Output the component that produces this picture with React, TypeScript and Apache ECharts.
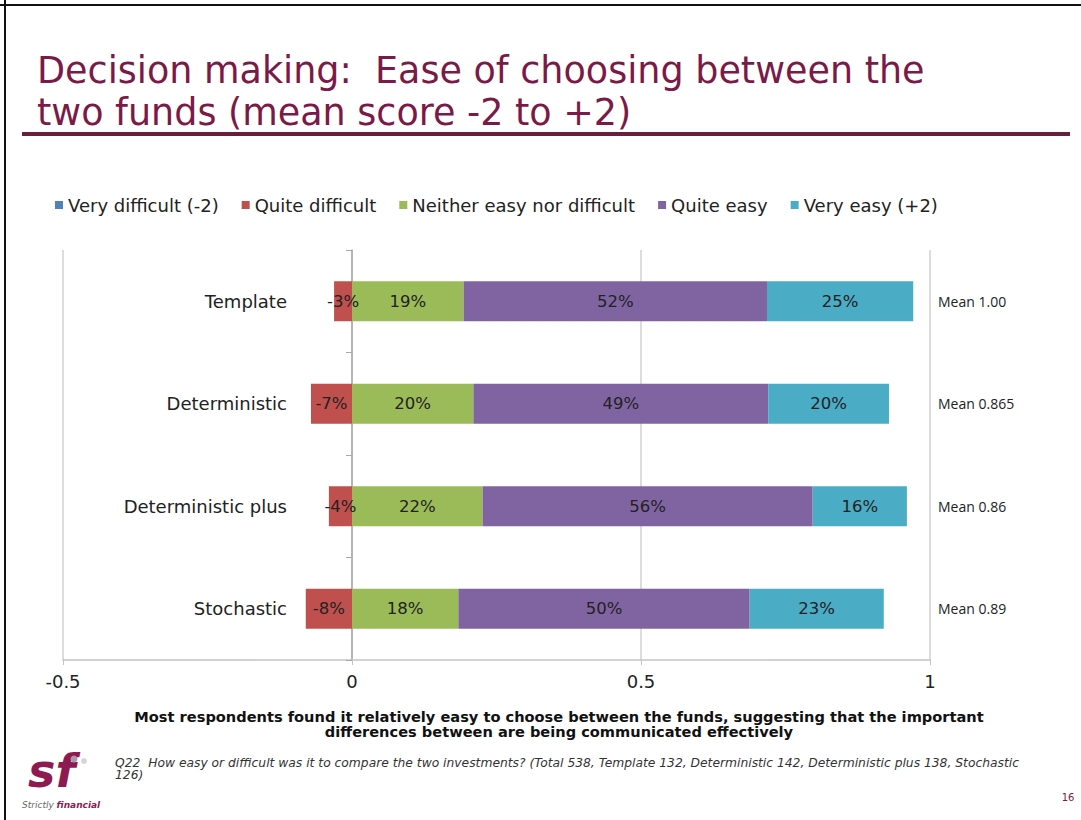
import React, { useEffect, useRef } from "react";
import * as echarts from "echarts";

// ---- Data ----
const categories = ["Template", "Deterministic", "Deterministic plus", "Stochastic"];
const seriesNames = [
  "Very difficult (-2)",
  "Quite difficult",
  "Neither easy nor difficult",
  "Quite easy",
  "Very easy (+2)",
];
// bar lengths as drawn (share of respondents, negatives for "difficult")
const veryDifficult = [0, 0, 0, 0];
const quiteDifficult = [-0.031, -0.071, -0.04, -0.08];
const neither = [0.193, 0.21, 0.226, 0.184];
const quiteEasy = [0.525, 0.51, 0.571, 0.504];
const veryEasy = [0.253, 0.209, 0.163, 0.232];
// printed data labels
const quiteDifficultLabels = ["-3%", "-7%", "-4%", "-8%"];
const neitherLabels = ["19%", "20%", "22%", "18%"];
const quiteEasyLabels = ["52%", "49%", "56%", "50%"];
const veryEasyLabels = ["25%", "20%", "16%", "23%"];
const meanLabels = ["Mean 1.00", "Mean 0.865", "Mean 0.86", "Mean 0.89"];
const xTicks = { min: -0.5, max: 1, interval: 0.5 };

const colors = ["#4F81BD", "#C0504D", "#9BBB59", "#8064A2", "#4BACC6"];
const maroon = "#7a1a48";
const FONT = "DejaVu Sans";

function makeSeries(name: string, data: number[], labels: string[] | null, color: string) {
  return {
    name,
    type: "bar",
    stack: "total",
    barWidth: 40,
    data,
    itemStyle: { color },
    label: {
      show: !!labels,
      position: "inside",
      formatter: (p: any) => (labels ? labels[p.dataIndex] : ""),
      color: "#222",
      fontSize: 16.5,
      fontFamily: FONT,
    },
  };
}

export default function App() {
  const ref = useRef<HTMLDivElement>(null);
  useEffect(() => {
    if (!ref.current) return;
    const chart = echarts.init(ref.current, null, { renderer: "svg" });
    const option: any = {
      animation: false,
      backgroundColor: "#ffffff",
      color: colors,
      legend: {
        data: seriesNames,
        left: 50,
        top: 191,
        icon: "rect",
        itemWidth: 8,
        itemHeight: 8,
        itemGap: 23,
        textStyle: { fontFamily: FONT, fontSize: 18, color: "#222" },
      },
      grid: {
        left: 63,
        right: 151,
        top: 250,
        bottom: 160,
        containLabel: false,
        outerBoundsMode: "none",
      },
      xAxis: {
        type: "value",
        min: xTicks.min,
        max: xTicks.max,
        interval: xTicks.interval,
        axisLine: { show: true, onZero: false, lineStyle: { color: "#c4c4c4", width: 1.5 } },
        axisTick: { show: true, length: 5, lineStyle: { color: "#c4c4c4" } },
        splitLine: { show: true, lineStyle: { color: "#d0d0d0", width: 1.5 } },
        axisLabel: { fontFamily: FONT, fontSize: 18, color: "#222", margin: 12 },
      },
      yAxis: [
        {
          type: "category",
          data: categories,
          inverse: true,
          axisLine: { show: true, onZero: true, lineStyle: { color: "#a8a8a8", width: 1.5 } },
          axisTick: { show: true, length: 6, lineStyle: { color: "#a8a8a8" } },
          axisLabel: { fontFamily: FONT, fontSize: 18, color: "#222", margin: -224 },
        },
        {
          type: "category",
          data: meanLabels,
          inverse: true,
          position: "right",
          axisLine: { show: false, onZero: false },
          axisTick: { show: false },
          splitLine: { show: false },
          axisLabel: { fontFamily: "Open Sans", fontSize: 14, color: "#222", margin: 8 },
        },
      ],
      series: [
        makeSeries(seriesNames[1], quiteDifficult, quiteDifficultLabels, colors[1]),
        makeSeries(seriesNames[0], veryDifficult, null, colors[0]),
        makeSeries(seriesNames[2], neither, neitherLabels, colors[2]),
        makeSeries(seriesNames[3], quiteEasy, quiteEasyLabels, colors[3]),
        makeSeries(seriesNames[4], veryEasy, veryEasyLabels, colors[4]),
      ],
      graphic: [
        { type: "line", shape: { x1: 0, y1: 5, x2: 1081, y2: 5 }, style: { stroke: "#111", lineWidth: 2 } },
        { type: "line", shape: { x1: 5, y1: 0, x2: 5, y2: 820 }, style: { stroke: "#111", lineWidth: 2 } },
        {
          type: "text",
          x: 37,
          y: 70,
          style: {
            text: "Decision making:  Ease of choosing between the",
            fill: maroon,
            fontFamily: FONT,
            fontSize: 36.5,
            verticalAlign: "middle",
          },
        },
        {
          type: "text",
          x: 37,
          y: 112,
          style: {
            text: "two funds (mean score -2 to +2)",
            fill: maroon,
            fontFamily: FONT,
            fontSize: 36.5,
            verticalAlign: "middle",
          },
        },
        { type: "rect", shape: { x: 22, y: 132, width: 1048, height: 4 }, style: { fill: "#6b1d3d" } },
        {
          type: "text",
          x: 559,
          y: 716,
          style: {
            text: "Most respondents found it relatively easy to choose between the funds, suggesting that the important",
            fill: "#111",
            fontFamily: FONT,
            fontWeight: "bold",
            fontSize: 14.6,
            align: "center",
            verticalAlign: "middle",
          },
        },
        {
          type: "text",
          x: 559,
          y: 731,
          style: {
            text: "differences between are being communicated effectively",
            fill: "#111",
            fontFamily: FONT,
            fontWeight: "bold",
            fontSize: 14.6,
            align: "center",
            verticalAlign: "middle",
          },
        },
        {
          type: "text",
          x: 115,
          y: 763,
          style: {
            text: "Q22  How easy or difficult was it to compare the two investments? (Total 538, Template 132, Deterministic 142, Deterministic plus 138, Stochastic",
            fill: "#333",
            fontFamily: FONT,
            fontStyle: "italic",
            fontSize: 12.3,
            verticalAlign: "middle",
          },
        },
        {
          type: "text",
          x: 115,
          y: 775,
          style: {
            text: "126)",
            fill: "#333",
            fontFamily: FONT,
            fontStyle: "italic",
            fontSize: 12.3,
            verticalAlign: "middle",
          },
        },
        {
          type: "text",
          x: 28,
          y: 771,
          style: {
            text: "sf",
            fill: "#8e1a52",
            fontFamily: FONT,
            fontStyle: "italic",
            fontWeight: "bold",
            fontSize: 46,
            verticalAlign: "middle",
          },
        },
        { type: "circle", shape: { cx: 74, cy: 759, r: 3.5 }, style: { fill: "#a89aa2" } },
        { type: "circle", shape: { cx: 84, cy: 761, r: 3 }, style: { fill: "#d6d6d6" } },
        {
          type: "text",
          x: 22,
          y: 805,
          style: {
            text: "{a|Strictly }{b|financial}",
            verticalAlign: "middle",
            rich: {
              a: { fontFamily: FONT, fontSize: 9, fill: "#666", fontStyle: "italic" },
              b: { fontFamily: FONT, fontSize: 9, fill: "#8e1a52", fontStyle: "italic", fontWeight: "bold" },
            },
          },
        },
        {
          type: "text",
          x: 1068,
          y: 797,
          style: { text: "16", fill: maroon, fontFamily: FONT, fontSize: 10, align: "center", verticalAlign: "middle" },
        },
      ],
    };
    chart.setOption(option);
    return () => chart.dispose();
  }, []);
  return (
    <div
      ref={ref}
      style={{ position: "absolute", left: 0, top: 0, width: 1081, height: 820, background: "#fff" }}
    />
  );
}
